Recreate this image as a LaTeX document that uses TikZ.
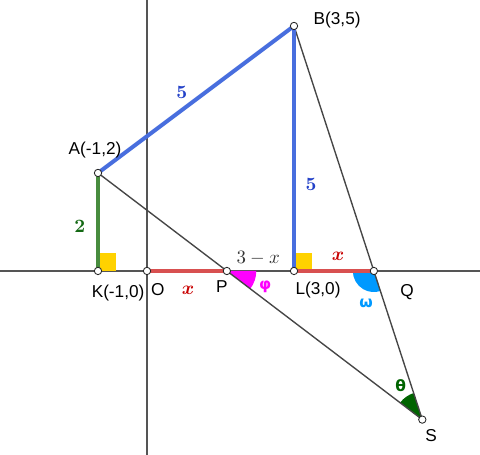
\documentclass[tikz,border=0pt]{standalone}
\usepackage{amsmath,amssymb}
\usepackage{fontspec}
\usepackage{tikz}
\newfontfamily\ptfont{Liberation Sans}
\newfontfamily\angfont{DejaVu Sans}
\definecolor{axgray}{RGB}{85,85,85}
\definecolor{lngray}{RGB}{70,70,70}
\definecolor{segblue}{RGB}{72,110,222}
\definecolor{txtblue}{RGB}{35,65,200}
\definecolor{seggreen}{RGB}{72,140,62}
\definecolor{txtgreen}{RGB}{20,105,20}
\definecolor{segred}{RGB}{216,80,80}
\definecolor{txtred}{RGB}{200,0,0}
\definecolor{rtyellow}{RGB}{255,210,0}
\definecolor{phimag}{RGB}{255,0,255}
\definecolor{omblue}{RGB}{0,153,255}
\definecolor{thgreen}{RGB}{0,100,0}

\begin{document}
\begin{tikzpicture}[line cap=round,line join=round,x=1cm,y=1cm,
  pt/.style={circle,draw=black!85,fill=white,inner sep=0pt,minimum size=1.5mm,line width=0.5pt},
  lbl/.style={font=\ptfont\fontsize{10}{12}\selectfont,inner sep=0pt},
  mlbl/.style={font=\fontsize{11}{13}\selectfont,inner sep=0pt},
  glbl/.style={font=\angfont\bfseries\fontsize{9}{11}\selectfont,inner sep=0pt}]
\clip(-3.,-3.755) rectangle (6.796,5.53);
% points
\coordinate (O) at (0,0);
\coordinate (A) at (-1,2);
\coordinate (B) at (3,5);
\coordinate (K) at (-1,0);
\coordinate (L) at (3,0);
\coordinate (P) at (1.63,0);
\coordinate (Q) at (4.63,0);
\coordinate (S) at (intersection of A--P and B--Q);
\coordinate (xl) at (-3,0);
\coordinate (xr) at (6.8,0);
\coordinate (yb) at (0,-3.8);
\coordinate (yt) at (0,5.6);
% axes
\draw [line width=0.9pt,color=axgray] (xl)-- (xr);
\draw [line width=0.9pt,color=axgray] (yb)-- (yt);
% right angles
\fill [color=rtyellow] (K) rectangle ++(0.37,0.37);
\fill [color=rtyellow] (L) rectangle ++(0.37,0.37);
% angles
\fill [color=phimag] (P) -- ++(0:0.6) arc (0:-37.25:0.6) -- cycle;
\fill [color=omblue] (Q) -- ++(180:0.43) arc (180:288.06:0.43) -- cycle;
\fill [color=thgreen] (S) -- ++(108.06:0.57) arc (108.06:142.75:0.57) -- cycle;
% thin lines
\draw [line width=0.8pt,color=lngray] (A)-- (S);
\draw [line width=0.8pt,color=lngray] (B)-- (S);
% coloured segments
\draw [line width=2.3pt,color=segblue] (A)-- (B);
\draw [line width=2.3pt,color=segblue] (B)-- (L);
\draw [line width=1.8pt,color=seggreen] (A)-- (K);
\draw [line width=2.pt,color=segred] (O)-- (P);
\draw [line width=2.pt,color=segred] (L)-- (Q);
% point marks
\foreach \p in {A,B,K,O,P,L,Q,S}
  \node[pt] (m\p) at (\p) {};
% point labels
\node[lbl] (labA) at (-1.06,2.47) {A(-1,2)};
\node[lbl] (labB) at (3.88,5.12) {B(3,5)};
\node[lbl] (labK) at (-0.59,-0.45) {K(-1,0)};
\node[lbl] (labO) at (0.22,-0.37) {O};
\node[lbl] (labP) at (1.53,-0.31) {P};
\node[lbl] (labL) at (3.49,-0.39) {L(3,0)};
\node[lbl] (labQ) at (5.31,-0.43) {Q};
\node[lbl] (labS) at (5.80,-3.35) {S};
% lengths
\node[mlbl,color=txtblue] (lenAB) at (0.71,3.65) {$\boldsymbol{5}$};
\node[mlbl,color=txtblue] (lenBL) at (3.35,1.76) {$\boldsymbol{5}$};
\node[mlbl,color=txtgreen] (lenAK) at (-1.37,0.90) {$\boldsymbol{2}$};
\node[mlbl,color=txtred] (lenOP) at (0.84,-0.39) {$\boldsymbol{x}$};
\node[mlbl,color=txtred] (lenLQ) at (3.90,0.29) {$\boldsymbol{x}$};
\node[mlbl,color=black!80] (lenPL) at (2.27,0.27) {$3-x$};
% angle names
\node[glbl,color=phimag] (angP) at (2.41,-0.33) {φ};
\node[glbl,color=omblue] (angQ) at (4.47,-0.67) {ω};
\node[glbl,color=thgreen] (angS) at (5.18,-2.33) {θ};
\end{tikzpicture}
\end{document}
